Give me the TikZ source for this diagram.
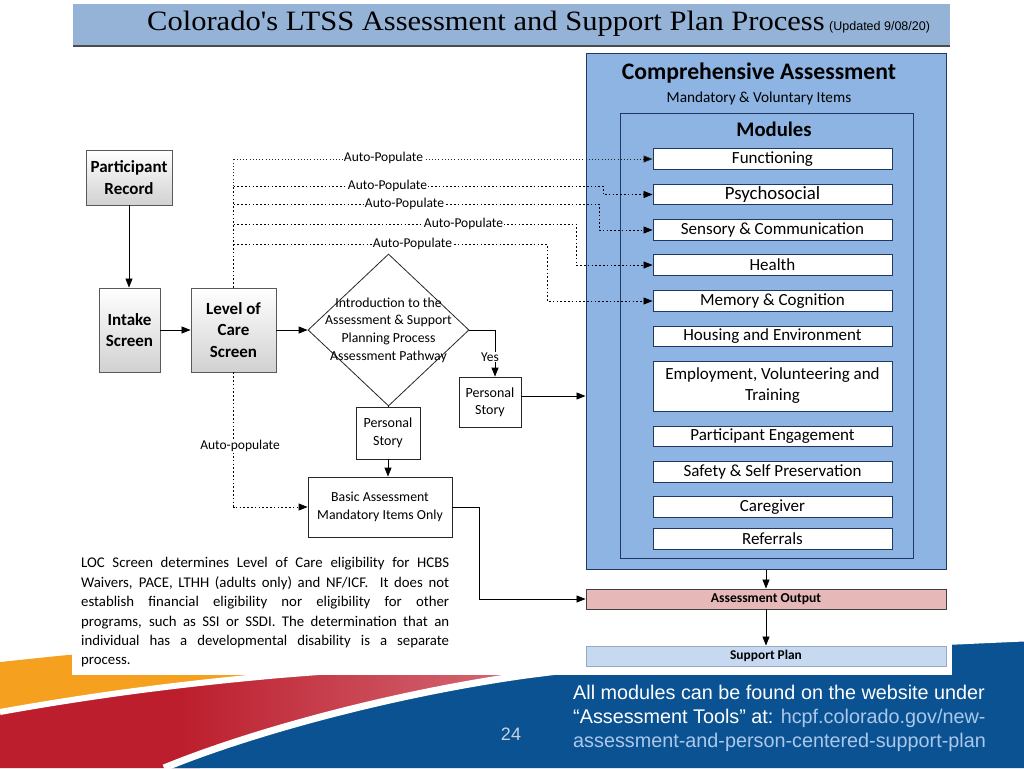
\documentclass[tikz,border=0pt]{standalone}
\usepackage{fontspec}
\usepackage{graphicx}
\setmainfont{Carlito}
\newfontfamily\titlefont{Liberation Serif}
\newfontfamily\footfont{Liberation Sans}
\usetikzlibrary{arrows.meta,shapes.geometric}
\definecolor{titlebg}{RGB}{149,179,215}
\definecolor{cablue}{RGB}{141,180,226}
\definecolor{navy}{RGB}{31,56,100}
\definecolor{aopink}{RGB}{230,185,184}
\definecolor{spblue}{RGB}{198,217,240}
\definecolor{spborder}{RGB}{150,170,195}
\definecolor{bandblue}{RGB}{11,82,146}
\definecolor{bandorange}{RGB}{245,160,30}
\definecolor{bandred}{RGB}{188,30,45}
\definecolor{redmid}{RGB}{214,110,122}
\definecolor{bandpink}{RGB}{246,222,226}
\definecolor{linkblue}{RGB}{170,200,235}
\definecolor{pagenum}{RGB}{200,212,228}
\definecolor{boxgray}{RGB}{89,89,89}
\pgfdeclarehorizontalshading{redfade}{100bp}{color(0bp)=(bandred); color(40bp)=(bandred); color(70bp)=(redmid); color(100bp)=(bandpink)}
\tikzset{
  gbox/.style={draw=boxgray, line width=0.9pt, top color=white, bottom color=black!18, font=\fontsize{17}{21.5}\selectfont\bfseries, align=center, inner sep=0pt},
  wbox/.style={draw=black!85, line width=0.8pt, fill=white, align=center, inner sep=0pt},
  modbox/.style={draw=navy, line width=0.9pt, fill=white, minimum width=239pt, minimum height=20.5pt, inner sep=0pt, align=center, font=\fontsize{17}{21}\selectfont},
  arr/.style={-{Triangle[length=9pt,width=7pt]}, line width=0.8pt},
  bolddots/.style={line width=1.6pt, dash pattern=on 1.6pt off 2.2pt},
  finedots/.style={line width=1pt, dash pattern=on 1pt off 2.2pt, draw=black!85},
  aplabel/.style={fill=white, inner sep=1pt, font=\fontsize{13.5}{15}\selectfont}
}
\begin{document}
\begin{tikzpicture}[x=1pt,y=-1pt]
\useasboundingbox (0,0) rectangle (1024,768);
% ---- slide band ----
\fill[bandorange] (0,662) .. controls (30,659) and (55,656) .. (80,654) -- (600,640) -- (600,680) -- (0,730) -- cycle;
\shade[shading=redfade] (0,712) .. controls (100,694) and (190,683) .. (280,675) .. controls (380,667) and (460,662) .. (560,658) -- (600,700) -- (200,768) -- (0,768) -- cycle;
\draw[white, line width=6pt] (0,712) .. controls (100,694) and (190,683) .. (280,675) .. controls (380,667) and (460,662) .. (560,658);
\fill[bandblue] (164,768) .. controls (244,735) and (384,695) .. (526,675) .. controls (680,655) and (860,645) .. (1024,638) -- (1024,768) -- cycle;
\draw[white, line width=7pt] (164,768) .. controls (244,735) and (384,695) .. (526,675) .. controls (680,655) and (860,645) .. (1024,638);
% ---- image area ----
\fill[white] (72,0) rectangle (952,675);
\fill[titlebg] (73,4) rectangle (950,46);
\draw[black!70, line width=1.5pt] (73,46) -- (950,46);
\node[anchor=west, inner sep=0pt, font=\titlefont\fontsize{28}{30}\selectfont] (title) at (147,24) {\scalebox{1.09}[1]{Colorado's LTSS Assessment and Support Plan Process}};
\node[anchor=west, inner sep=0pt, font=\footfont\fontsize{12.5}{14}\selectfont] (upd) at (829,27) {(Updated 9/08/20)};
% ---- comprehensive assessment ----
\node[draw=navy, line width=1pt, fill=cablue, minimum width=360pt, minimum height=515pt, inner sep=0pt] (ca) at (766,311.5) {};
\node[font=\fontsize{23.7}{26}\selectfont\bfseries] (catitle) at (759,73) {Comprehensive Assessment};
\node[font=\fontsize{15.3}{17}\selectfont] (casub) at (759,98) {Mandatory \& Voluntary Items};
\node[draw=navy, line width=1pt, fill=cablue, minimum width=293pt, minimum height=445pt, inner sep=0pt] (mod) at (766.5,335.5) {};
\node[font=\fontsize{20.7}{23}\selectfont\bfseries] (modtitle) at (774,129) {Modules};
\node[modbox] (m1) at (772.5,159) {Functioning};
\node[modbox, font=\fontsize{18.8}{21}\selectfont] (m2) at (772.5,194.5) {Psychosocial};
\node[modbox] (m3) at (772.5,230) {Sensory \& Communication};
\node[modbox] (m4) at (772.5,265) {Health};
\node[modbox] (m5) at (772.5,301) {Memory \& Cognition};
\node[modbox] (m6) at (772.5,336.5) {Housing and Environment};
\node[modbox, minimum height=50pt] (m7) at (772.5,386) {Employment, Volunteering and\\Training};
\node[modbox] (m8) at (772.5,436.5) {Participant Engagement};
\node[modbox] (m9) at (772.5,472) {Safety \& Self Preservation};
\node[modbox] (m10) at (772.5,507) {Caregiver};
\node[modbox] (m11) at (772.5,539) {Referrals};
\node[draw=black!75, line width=0.9pt, fill=aopink, minimum width=360pt, minimum height=20pt, inner sep=0pt, font=\fontsize{13.6}{15}\selectfont\bfseries] (ao) at (766,599) {Assessment Output};
\node[draw=spborder, line width=0.9pt, fill=spblue, minimum width=360pt, minimum height=20pt, inner sep=0pt, font=\fontsize{13.4}{15}\selectfont\bfseries] (sp) at (766,656) {Support Plan};
% ---- left flow ----
\node[gbox, minimum width=86pt, minimum height=55pt] (pr) at (129,177.5) {Participant\\Record};
\node[gbox, minimum width=61pt, minimum height=84pt] (is) at (129.5,330) {Intake\\Screen};
\node[gbox, minimum width=85pt, minimum height=84pt] (loc) at (233.5,330) {Level of\\Care\\Screen};
\node[draw=black!85, line width=0.8pt, fill=white, diamond, minimum width=161pt, minimum height=152pt, inner sep=0pt] (dia) at (388.5,330) {};
\node[align=center, inner sep=0pt, font=\fontsize{13.8}{17.6}\selectfont] (diatext) at (388.5,330) {Introduction to the\\Assessment \& Support\\Planning Process\\Assessment Pathway};
\node[wbox, minimum width=62pt, minimum height=50pt, font=\fontsize{14}{17}\selectfont] (psr) at (490,402) {Personal\\Story};
\node[wbox, minimum width=64pt, minimum height=52pt, font=\fontsize{14}{18}\selectfont] (psl) at (388,433) {Personal\\Story};
\node[wbox, minimum width=144pt, minimum height=60pt, font=\fontsize{13.8}{18}\selectfont] (ba) at (380,507) {Basic Assessment\\Mandatory Items Only};
% ---- solid connectors ----
\draw[arr] (pr.south) -- (pr.south |- is.north);
\draw[arr] (is.east) -- (loc.west);
\draw[arr] (loc.east) -- (dia.west);
\draw[line width=0.8pt] (dia.south) -- (dia.south |- psl.north);
\draw[arr] (psl.south) -- (psl.south |- ba.north);
\draw[arr] (dia.east) -| ([xshift=5pt]psr.north);
\node[fill=white, inner sep=1pt, font=\fontsize{13.5}{15}\selectfont] (yes) at (490,357) {Yes};
\coordinate (psout) at ([yshift=6pt]psr.east);
\draw[arr] (psout) -- (psout -| ca.west);
\coordinate (bend0) at (479,507);
\draw[arr] (ba.east) -- (bend0) |- (ao.west);
\draw[arr] (ca.south) -- (ao.north);
\draw[arr] (ao.south) -- (sp.north);
% ---- dotted auto-populate connectors ----
\coordinate (b2) at (603,186);
\coordinate (b3) at (599,204);
\coordinate (b4) at (576,224);
\coordinate (b5) at (547,244);
\draw[finedots] (loc.north |- b2) -- (loc.north |- m1.west);
\draw[finedots, arr, -{Triangle[length=9pt,width=7pt,fill=black]}] (loc.north |- m1.west) -- (m1.west);
\draw[bolddots] (loc.north) -- (loc.north |- b2);
\draw[bolddots, arr] (loc.north |- b2) -- (b2) |- (m2.west);
\draw[bolddots, arr] (loc.north |- b3) -- (b3) |- (m3.west);
\draw[bolddots, arr] (loc.north |- b4) -- (b4) |- (m4.west);
\draw[bolddots, arr] (loc.north |- b5) -- (b5) |- (m5.west);
\draw[bolddots, arr] (loc.south) -- (loc.south |- ba.west) -- (ba.west);
\node[aplabel] (ap1) at (383.5,158) {Auto-Populate};
\node[aplabel] (ap2) at (387.5,186) {Auto-Populate};
\node[aplabel] (ap3) at (404.5,204) {Auto-Populate};
\node[aplabel] (ap4) at (463.5,224) {Auto-Populate};
\node[aplabel] (ap5) at (412.5,244) {Auto-Populate};
\node[aplabel] (ap6) at (240,446) {Auto-populate};
% ---- note ----
\node[anchor=north west, text width=368pt, align=justify, inner sep=0pt, font=\fontsize{14.8}{19.4}\selectfont] (note) at (81,557.5) {LOC Screen determines Level of Care eligibility for HCBS\linebreak Waivers, PACE, LTHH (adults only) and NF/ICF.\ \ It does not\linebreak establish financial eligibility nor eligibility for other\linebreak programs, such as SSI or SSDI. The determination that an\linebreak individual has a developmental disability is a separate\linebreak process.};
% ---- footer ----
\node[anchor=west, align=left, inner sep=0pt, text=white, font=\footfont\fontsize{19.8}{24}\selectfont] (foot) at (573,718) {All modules can be found on the website under\\“Assessment Tools” at: \textcolor{linkblue}{hcpf.colorado.gov/new-}\\\textcolor{linkblue}{assessment-and-person-centered-support-plan}};
\node[text=pagenum, inner sep=0pt, font=\footfont\fontsize{18}{20}\selectfont] (pnum) at (511,734) {24};
\end{tikzpicture}
\end{document}
